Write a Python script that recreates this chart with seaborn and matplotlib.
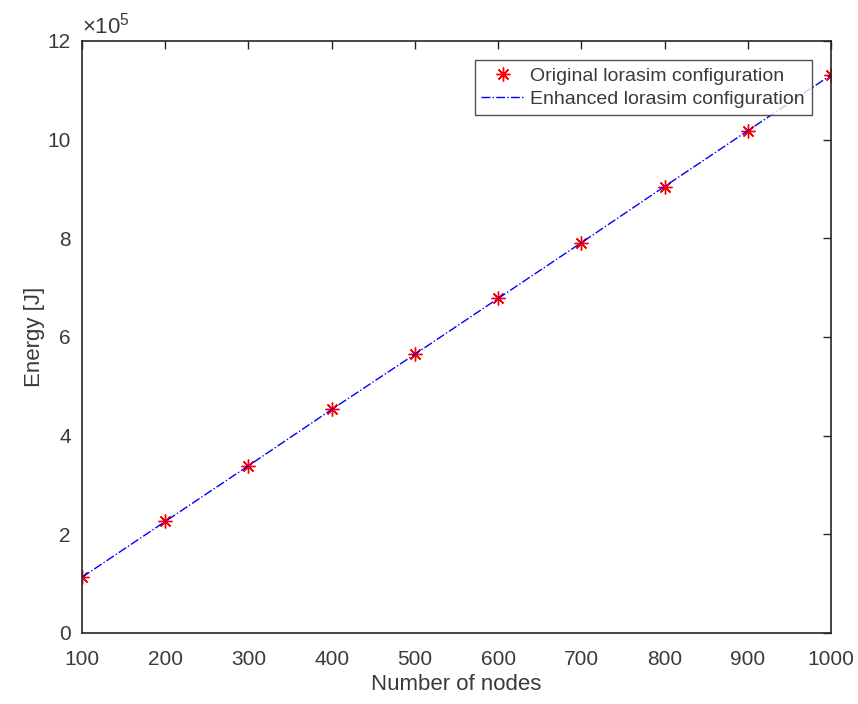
import numpy as np
import pandas as pd
import seaborn as sns
import matplotlib.pyplot as plt
from matplotlib.ticker import FuncFormatter

# values (energy in J)
nodes = [100, 200, 300, 400, 500, 600, 700, 800, 900, 1000]
energy_original = [1.13e5, 2.26e5, 3.39e5, 4.53e5, 5.65e5, 6.78e5, 7.91e5, 9.05e5, 10.18e5, 11.31e5]
energy_enhanced = [1.13e5, 2.26e5, 3.39e5, 4.53e5, 5.65e5, 6.78e5, 7.91e5, 9.05e5, 10.18e5, 11.31e5]
x_ticks = [100, 200, 300, 400, 500, 600, 700, 800, 900, 1000]
y_ticks = [0, 2e5, 4e5, 6e5, 8e5, 10e5, 12e5]

df = pd.DataFrame({'nodes': nodes, 'original': energy_original, 'enhanced': energy_enhanced})

sns.set_style("white")
plt.rcParams['font.family'] = ['Liberation Sans', 'DejaVu Sans']
plt.rcParams['mathtext.fontset'] = 'custom'
plt.rcParams['mathtext.rm'] = 'Liberation Sans'

fig = plt.figure(figsize=(8.58, 7.04), dpi=100)
ax = fig.add_axes([0.0956, 0.1009, 0.8729, 0.8409])

dark = '#262626'
text_col = '#3a3a3a'
sns.lineplot(data=df, x='nodes', y='original', ax=ax, linestyle='none',
             marker=(8, 2, 0), markersize=10, markeredgecolor='red',
             markeredgewidth=1.0, color='red', label='Original lorasim configuration')
sns.lineplot(data=df, x='nodes', y='enhanced', ax=ax, linestyle='-.',
             color='blue', linewidth=1.0, label='Enhanced lorasim configuration')

ax.set_xlim(100, 1000)
ax.set_ylim(0, 12e5)
ax.set_xticks(x_ticks)
ax.set_yticks(y_ticks)
ax.yaxis.set_major_formatter(FuncFormatter(lambda v, _: f'{v / 1e5:g}'))
ax.text(0.0, 1.004, r'$\times\mathdefault{10^{5}}$', transform=ax.transAxes,
        fontsize=16, color=text_col, ha='left', va='bottom')

ax.tick_params(direction='in', length=6, width=1, colors=dark, labelcolor=text_col,
               labelsize=15, top=True, right=True)
ax.tick_params(axis='x', pad=12)
ax.tick_params(axis='y', pad=8)
for s in ax.spines.values():
    s.set_color(dark)
    s.set_linewidth(1.2)

ax.set_xlabel('Number of nodes', fontsize=16, color=text_col, labelpad=4)
ax.set_ylabel('Energy [J]', fontsize=16, color=text_col, labelpad=2)

leg = ax.legend(loc='upper right', fontsize=14, frameon=True, fancybox=False,
                edgecolor=dark, borderpad=0.35, labelspacing=0.3,
                handlelength=2.2, handletextpad=0.3, borderaxespad=1.0)
leg.get_frame().set_linewidth(1.0)
for t in leg.get_texts():
    t.set_color(text_col)

fig.savefig('out.png', dpi=100)
